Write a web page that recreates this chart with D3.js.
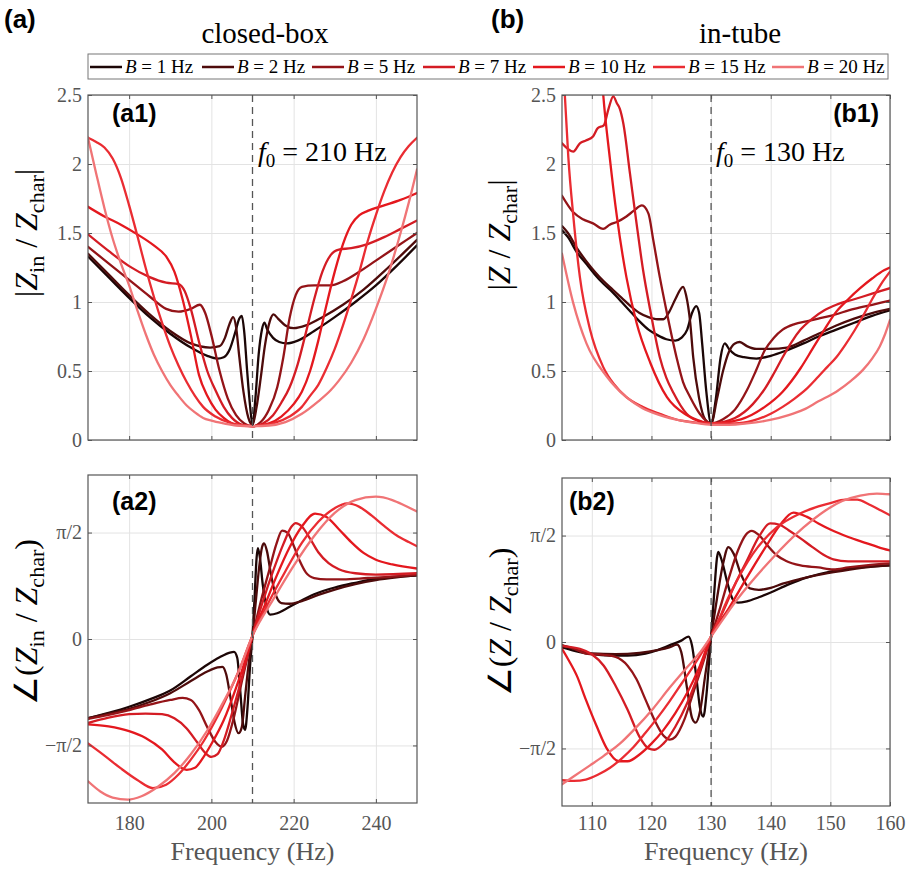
<!DOCTYPE html>
<html>
<head>
<meta charset="utf-8">
<script src="https://cdn.jsdelivr.net/npm/d3@7"></script>
<style>
  body { margin: 0; background: #fff; }
  svg { display: block; }
  text { font-family: "Liberation Serif", "Times New Roman", serif; }
</style>
</head>
<body>
<script>
var width = 907, height = 871;

var bandwidths = [1, 2, 5, 7, 10, 15, 20];
var colors = ['#1c0606', '#4e0b0b', '#941418', '#d41c24', '#e4181e', '#ea2c32', '#f07476'];

// |Zin/Zchar| closed-box, one list of [frequency, value] per bandwidth
var boxMag = [
  [[170,1.33],[175,1.18],[180,1.03],[185,0.89],[190,0.77],[195,0.67],[199,0.61],[201.5,0.59],[203,0.6],[204.5,0.66],[205.8,0.78],[206.8,0.88],[207.4,0.9],[208,0.78],[208.7,0.5],[209.4,0.25],[210,0.11],[210.7,0.3],[211.5,0.62],[212.3,0.8],[212.9,0.85],[213.6,0.8],[215,0.74],[216.5,0.71],[218.3,0.7],[221,0.72],[225,0.79],[230,0.89],[235,1.0],[240,1.12],[245,1.26],[250,1.41]],
  [[170,1.35],[175,1.2],[180,1.05],[185,0.91],[190,0.79],[195,0.7],[199.7,0.67],[202,0.68],[203.3,0.74],[204.4,0.84],[205.3,0.89],[206,0.82],[206.8,0.6],[207.8,0.35],[209,0.16],[210,0.11],[211,0.24],[212,0.45],[213,0.68],[214.2,0.86],[215.1,0.91],[216.2,0.88],[218,0.83],[220,0.81],[223,0.83],[227,0.89],[232,0.98],[237,1.09],[243,1.25],[250,1.45]],
  [[170,1.4],[175,1.28],[180,1.16],[185,1.04],[189,0.95],[192,0.93],[195,0.95],[197.2,0.98],[198.5,0.92],[200,0.76],[202,0.5],[204,0.3],[206,0.18],[208,0.12],[210,0.1],[212,0.13],[214,0.22],[216,0.38],[217.5,0.6],[219,0.88],[220.5,1.05],[222,1.11],[225,1.12],[229,1.12],[232,1.15],[236,1.22],[240,1.3],[245,1.4],[250,1.5]],
  [[170,1.49],[175,1.37],[180,1.26],[185,1.18],[189,1.14],[192,1.13],[193.5,1.08],[195,0.95],[197,0.71],[199,0.5],[201,0.36],[203,0.24],[205,0.16],[207.5,0.11],[210,0.1],[212.5,0.12],[215,0.18],[217,0.27],[219,0.38],[221,0.55],[223,0.78],[225,1.02],[227,1.22],[229,1.34],[231,1.38],[234,1.39],[238,1.42],[242,1.47],[246,1.53],[250,1.59]],
  [[170,1.69],[174,1.62],[178,1.56],[182,1.49],[186,1.41],[189,1.33],[191,1.22],[193,1.02],[195,0.76],[197,0.47],[199,0.32],[201,0.22],[203,0.16],[206,0.11],[210,0.1],[214,0.12],[217,0.17],[220,0.26],[222,0.35],[224,0.5],[226,0.72],[228,0.98],[230,1.22],[232,1.42],[234,1.56],[236,1.63],[238,1.66],[242,1.7],[246,1.74],[250,1.79]],
  [[170,2.19],[172,2.16],[174,2.12],[176,2.04],[178,1.9],[180,1.7],[182,1.48],[184,1.25],[186,1.04],[188,0.85],[190,0.68],[192,0.54],[194,0.42],[196,0.32],[198,0.24],[201,0.17],[205,0.12],[210,0.1],[215,0.12],[219,0.17],[222,0.24],[224,0.32],[226,0.4],[228,0.52],[230,0.66],[232,0.83],[234,1.02],[236,1.22],[238,1.44],[240,1.63],[242,1.8],[244,1.94],[246,2.05],[248,2.13],[250,2.19]],
  [[170,2.19],[172,1.93],[174,1.68],[176,1.46],[178,1.28],[180,1.12],[182,0.94],[184,0.77],[186,0.62],[188,0.5],[190,0.4],[192,0.32],[194,0.25],[196,0.2],[198,0.16],[200,0.14],[203,0.12],[206,0.105],[210,0.1],[214,0.105],[218,0.13],[222,0.19],[226,0.28],[229,0.36],[231,0.43],[234,0.56],[237,0.73],[240,0.95],[243,1.2],[246,1.5],[248,1.72],[250,1.96]]
];

// |Z/Zchar| in-tube
var tubeMag = [
  [[105,1.52],[106,1.47],[107.5,1.36],[109,1.28],[110.5,1.2],[112,1.13],[113.5,1.07],[115,1.0],[116.5,0.93],[118,0.86],[119.5,0.8],[121,0.76],[122.5,0.73],[124,0.72],[125,0.74],[126,0.8],[126.8,0.92],[127.5,0.97],[128,0.92],[128.5,0.7],[129.2,0.35],[130,0.12],[130.8,0.3],[131.6,0.6],[132.3,0.7],[133,0.66],[134,0.62],[135.5,0.6],[137.6,0.59],[140,0.61],[142.7,0.65],[145.5,0.7],[148,0.75],[151,0.8],[154,0.85],[157,0.9],[160,0.94]],
  [[105,1.55],[106,1.5],[107.5,1.39],[109,1.3],[110.5,1.22],[112,1.15],[113.5,1.09],[115,1.03],[116.5,0.97],[118,0.92],[119.5,0.89],[121,0.875],[122,0.875],[123,0.93],[124,1.02],[125.3,1.11],[125.8,1.05],[126.5,0.85],[127,0.6],[128,0.3],[129,0.15],[130,0.12],[131,0.3],[132,0.5],[133,0.64],[134,0.7],[134.8,0.71],[136,0.68],[137.6,0.66],[140,0.66],[142.7,0.67],[145.5,0.72],[148,0.77],[151,0.83],[154,0.88],[157,0.92],[160,0.95]],
  [[105,1.77],[106.9,1.65],[108.5,1.6],[110.2,1.57],[111.9,1.53],[113,1.56],[114.2,1.58],[115.8,1.62],[117,1.66],[118.4,1.7],[119.5,1.64],[120.3,1.45],[121.4,1.18],[122.5,0.94],[124.2,0.6],[125.3,0.42],[126.5,0.31],[128.1,0.19],[130,0.12],[132,0.15],[134,0.22],[136,0.36],[137.5,0.5],[139,0.65],[140.5,0.74],[142,0.8],[144,0.84],[146,0.86],[148,0.88],[150,0.9],[154,0.95],[157,0.98],[160,1.01]],
  [[105,2.15],[106.9,2.09],[108,2.15],[109,2.17],[110.2,2.2],[111,2.26],[112,2.28],[112.8,2.4],[113.6,2.49],[114.2,2.44],[114.7,2.4],[115.3,2.29],[116.4,1.93],[117.5,1.57],[118.6,1.23],[119.8,0.94],[121.4,0.6],[122.5,0.45],[123.7,0.34],[125.9,0.19],[128,0.14],[130,0.12],[134,0.16],[137,0.26],[139,0.37],[140.5,0.48],[142,0.6],[143.5,0.71],[145,0.8],[147,0.88],[149,0.94],[151,0.98],[154,1.02],[157,1.06],[160,1.1]],
  [[111.5,2.75],[111.9,2.51],[113,2.05],[114.2,1.62],[115.8,1.18],[117.5,0.85],[119.8,0.56],[122.6,0.31],[125.9,0.18],[130,0.12],[135,0.15],[139,0.24],[142,0.35],[145,0.52],[147,0.66],[149,0.8],[151,0.93],[153,1.02],[155,1.1],[157,1.17],[159,1.23],[160,1.25]],
  [[105.2,2.75],[105.5,2.48],[106.06,2.05],[106.9,1.62],[108,1.18],[109.7,0.8],[111.9,0.53],[113.8,0.4],[115.8,0.31],[118.5,0.24],[121.4,0.19],[125,0.14],[130,0.12],[134,0.12],[137,0.14],[140,0.19],[142,0.24],[144,0.3],[146,0.37],[148,0.46],[149.5,0.53],[151,0.6],[152.5,0.69],[154,0.79],[155.5,0.9],[157,1.02],[158.5,1.13],[160,1.22]],
  [[105,1.35],[106.9,0.99],[109.1,0.7],[112.5,0.46],[115.8,0.31],[118.5,0.23],[121.4,0.18],[125,0.14],[128,0.12],[130.5,0.11],[133,0.11],[136,0.12],[139.9,0.145],[143,0.18],[145.5,0.22],[148,0.28],[151,0.35],[153.5,0.43],[155.5,0.51],[157,0.59],[158.3,0.68],[159.2,0.77],[160,0.87]]
];

// phase (rad) closed-box
var boxPhase = [
  [[170,-1.17],[175,-1.09],[180,-1.0],[185,-0.89],[190,-0.76],[195,-0.55],[199,-0.38],[202,-0.27],[204.5,-0.2],[205.5,-0.19],[206.3,-0.28],[207,-0.75],[207.7,-1.25],[208.2,-1.34],[208.8,-1.0],[209.4,-0.4],[210,0.05],[210.5,0.6],[211,1.2],[211.3,1.34],[211.8,1.2],[212.5,0.8],[213.5,0.45],[214.3,0.36],[216,0.38],[218,0.44],[221,0.54],[225,0.66],[230,0.76],[235,0.83],[240,0.89],[245,0.92],[250,0.94]],
  [[170,-1.17],[175,-1.1],[180,-1.03],[185,-0.93],[190,-0.8],[195,-0.62],[199,-0.48],[201.5,-0.42],[202.7,-0.41],[203.6,-0.52],[204.6,-0.85],[205.6,-1.22],[206.6,-1.39],[207.4,-1.3],[208.2,-0.85],[209,-0.4],[210,0.05],[210.8,0.55],[211.6,1.05],[212.3,1.35],[212.8,1.41],[213.5,1.3],[214.5,0.95],[215.5,0.68],[217,0.53],[219,0.52],[222,0.56],[226,0.65],[230,0.73],[235,0.81],[240,0.87],[245,0.91],[250,0.94]],
  [[170,-1.18],[175,-1.12],[180,-1.05],[185,-0.97],[190,-0.9],[193,-0.87],[195,-0.9],[197,-1.05],[199,-1.3],[201,-1.52],[202.5,-1.59],[203.8,-1.5],[205.5,-1.15],[207.5,-0.6],[210,0.05],[212,0.55],[214,1.0],[215.8,1.4],[217.2,1.6],[218.5,1.57],[220,1.38],[221.5,1.15],[223,0.98],[225,0.9],[228,0.88],[232,0.88],[238,0.9],[244,0.92],[250,0.95]],
  [[170,-1.24],[175,-1.16],[180,-1.11],[184,-1.1],[188,-1.11],[191,-1.17],[194,-1.32],[196.5,-1.52],[198.5,-1.68],[200,-1.74],[201.5,-1.7],[203,-1.5],[205,-1.1],[207.5,-0.55],[210,0.05],[212.5,0.55],[215,1.0],[217.5,1.4],[219.5,1.66],[220.5,1.71],[222,1.66],[224,1.48],[226,1.28],[228.5,1.12],[231,1.03],[235,0.97],[240,0.95],[250,0.97]],
  [[170,-1.26],[175,-1.29],[180,-1.36],[184,-1.46],[188,-1.63],[191,-1.82],[194,-1.93],[196,-1.9],[198,-1.75],[200,-1.55],[203,-1.2],[206,-0.72],[208,-0.36],[210,0.05],[213,0.5],[216,0.95],[219,1.35],[222,1.66],[225.2,1.85],[228,1.8],[231,1.62],[234,1.43],[237,1.27],[240,1.17],[244,1.1],[250,1.04]],
  [[170,-1.54],[174,-1.72],[178,-1.91],[182,-2.08],[185.8,-2.2],[189,-2.15],[192,-2.0],[195,-1.78],[198,-1.52],[201,-1.2],[204,-0.83],[207,-0.42],[210,0.05],[214,0.55],[218,1.0],[222,1.42],[226,1.73],[230,1.93],[233,2.0],[236,1.95],[239,1.82],[242,1.67],[245,1.53],[248,1.43],[250,1.37]],
  [[170,-2.1],[173,-2.25],[176,-2.34],[179.7,-2.37],[183,-2.32],[187,-2.18],[191,-1.98],[195,-1.7],[199,-1.35],[203,-0.92],[206.5,-0.5],[210,0.05],[215,0.58],[220,1.08],[225,1.52],[230,1.86],[235,2.05],[240,2.1],[244,2.05],[247,1.97],[250,1.88]]
];

// phase (rad) in-tube
var tubePhase = [
  [[105,-0.08],[108,-0.15],[110,-0.18],[113,-0.2],[116,-0.2],[119,-0.17],[121,-0.12],[123,-0.05],[125,0.02],[126.2,0.08],[126.8,-0.05],[127.5,-0.5],[128.2,-1.0],[128.7,-1.1],[129.2,-0.8],[129.7,-0.25],[130,0.08],[130.5,0.7],[131,1.25],[131.2,1.33],[131.8,1.2],[132.8,0.85],[133.7,0.62],[134.5,0.58],[136,0.6],[138,0.66],[140,0.73],[143,0.85],[146,0.95],[150,1.04],[155,1.1],[160,1.13]],
  [[105,-0.05],[108,-0.13],[110,-0.17],[114,-0.18],[118,-0.16],[121,-0.12],[123,-0.08],[124.3,-0.04],[125,-0.15],[126,-0.7],[126.8,-1.12],[127.4,-1.19],[128.2,-1.0],[129,-0.5],[130,0.08],[131,0.65],[132,1.15],[132.9,1.4],[133.8,1.3],[135,1.0],[136.5,0.79],[138,0.77],[140,0.8],[142,0.86],[145,0.93],[148,0.99],[152,1.05],[156,1.1],[160,1.13]],
  [[105,-0.05],[107,-0.1],[109,-0.17],[112,-0.19],[114,-0.22],[116,-0.35],[117.5,-0.55],[119,-0.85],[120.5,-1.15],[122,-1.38],[123.1,-1.44],[124,-1.4],[125.5,-1.15],[127,-0.75],[128.5,-0.35],[130,0.08],[131.5,0.5],[133,0.95],[134.5,1.35],[135.8,1.58],[136.8,1.64],[138,1.58],[139.5,1.42],[141,1.28],[142.5,1.2],[145,1.13],[148,1.1],[150.5,1.07],[153,1.1],[156,1.13],[160,1.16]],
  [[105,-0.06],[108,-0.1],[110,-0.18],[112,-0.35],[114,-0.65],[116,-1.0],[118,-1.4],[119.5,-1.57],[120.5,-1.59],[122,-1.5],[124,-1.25],[126,-0.9],[128,-0.45],[130,0.08],[132,0.45],[134,0.85],[136,1.2],[138,1.55],[139.9,1.75],[141.5,1.73],[143,1.65],[145,1.53],[147,1.4],[149,1.28],[150.5,1.22],[153,1.19],[156,1.19],[160,1.19]],
  [[105,-0.1],[106,-0.25],[107.5,-0.5],[109,-0.85],[110.8,-1.24],[112.5,-1.57],[114.5,-1.76],[116,-1.76],[118,-1.66],[120,-1.5],[122,-1.3],[124,-1.05],[126,-0.75],[128,-0.38],[130,0.08],[133,0.5],[136,0.95],[139,1.38],[141.5,1.72],[143.8,1.91],[146,1.85],[148,1.75],[150,1.66],[153,1.55],[156,1.46],[158,1.4],[160,1.35]],
  [[105,-2.04],[107,-2.05],[109,-2.03],[111,-1.96],[113,-1.86],[115,-1.72],[117,-1.55],[119,-1.34],[121,-1.12],[123,-0.88],[125,-0.62],[127,-0.36],[128.5,-0.15],[130,0.08],[133.2,0.71],[137,1.3],[141,1.69],[145,1.9],[148,2.0],[150,2.05],[152.5,2.1],[154.5,2.1],[156.5,2.03],[158.5,1.94],[160,1.87]],
  [[105,-2.1],[107,-1.98],[109.7,-1.82],[112,-1.68],[114.7,-1.5],[117,-1.3],[120.3,-0.98],[123,-0.68],[125.9,-0.38],[128,-0.17],[130,0.08],[134.3,0.62],[139.9,1.2],[145.5,1.69],[149,1.93],[152,2.08],[155,2.16],[157.8,2.19],[160,2.18]]
];

var magTicks = [0, 0.5, 1, 1.5, 2, 2.5];
var phaseTicks = [-Math.PI / 2, 0, Math.PI / 2];
var boxFreqTicks = [180, 200, 220, 240];
var tubeFreqTicks = [110, 120, 130, 140, 150, 160];

var axisColor = '#555';
var serif = '"Liberation Serif", "Times New Roman", serif';

var svg = d3.select('body').append('svg')
    .attr('width', width)
    .attr('height', height);

var phaseFormat = function(d) {
  if (Math.abs(d) < 1e-9) return '0';
  return d > 0 ? 'π/2' : '−π/2';
};

var panels = [
  {name: 'a1', series: boxMag, left: 88, right: 417, top: 95, bottom: 440,
   xDomain: [170, 250], yDomain: [0, 2.5], xTicks: boxFreqTicks, yTicks: magTicks,
   yFormat: function(d) { return String(d); }, f0: 210, showX: false,
   tag: '(a1)', tagX: 112, tagY: 122, tagAnchor: 'start'},
  {name: 'b1', series: tubeMag, left: 562, right: 890, top: 95, bottom: 440,
   xDomain: [105, 160], yDomain: [0, 2.5], xTicks: tubeFreqTicks, yTicks: magTicks,
   yFormat: function(d) { return String(d); }, f0: 130, showX: false,
   tag: '(b1)', tagX: 879, tagY: 122, tagAnchor: 'end'},
  {name: 'a2', series: boxPhase, left: 88, right: 417, top: 475, bottom: 803,
   xDomain: [170, 250], yDomain: [-2.42, 2.42], xTicks: boxFreqTicks, yTicks: phaseTicks,
   yFormat: phaseFormat, f0: 210, showX: true,
   tag: '(a2)', tagX: 112, tagY: 510, tagAnchor: 'start'},
  {name: 'b2', series: tubePhase, left: 562, right: 890, top: 478, bottom: 806,
   xDomain: [105, 160], yDomain: [-2.42, 2.42], xTicks: tubeFreqTicks, yTicks: phaseTicks,
   yFormat: phaseFormat, f0: 130, showX: true,
   tag: '(b2)', tagX: 569, tagY: 510, tagAnchor: 'start'}
];

function styleTicks(sel) {
  sel.selectAll('.tick line').attr('stroke', axisColor);
  sel.selectAll('.tick text')
      .attr('fill', axisColor)
      .style('font-family', serif)
      .style('font-size', '20px');
}

panels.forEach(function(p) {
  var x = d3.scaleLinear().domain(p.xDomain).range([p.left, p.right]);
  var y = d3.scaleLinear().domain(p.yDomain).range([p.bottom, p.top]);
  var w = p.right - p.left, h = p.bottom - p.top;
  var g = svg.append('g').attr('class', 'panel-' + p.name);

  // grid
  var gx = g.append('g')
      .attr('transform', 'translate(0,' + p.bottom + ')')
      .call(d3.axisBottom(x).tickValues(p.xTicks).tickSize(-h).tickFormat(''));
  gx.select('.domain').remove();
  gx.selectAll('line').attr('stroke', '#e3e3e3');
  var gy = g.append('g')
      .attr('transform', 'translate(' + p.left + ',0)')
      .call(d3.axisLeft(y).tickValues(p.yTicks).tickSize(-w).tickFormat(''));
  gy.select('.domain').remove();
  gy.selectAll('line').attr('stroke', '#e3e3e3');

  // curves
  var clipId = 'clip-' + p.name;
  svg.append('clipPath').attr('id', clipId)
    .append('rect')
      .attr('x', p.left).attr('y', p.top)
      .attr('width', w).attr('height', h);

  var line = d3.line()
      .x(function(d) { return x(d[0]); })
      .y(function(d) { return y(d[1]); })
      .curve(d3.curveMonotoneX);

  g.append('g')
      .attr('clip-path', 'url(#' + clipId + ')')
    .selectAll('path')
      .data(p.series)
    .enter().append('path')
      .attr('d', line)
      .attr('fill', 'none')
      .attr('stroke', function(d, i) { return colors[i]; })
      .attr('stroke-width', 2.3)
      .attr('stroke-linejoin', 'round')
      .attr('stroke-linecap', 'round');

  // resonance line
  g.append('line')
      .attr('x1', x(p.f0)).attr('x2', x(p.f0))
      .attr('y1', p.top).attr('y2', p.bottom)
      .attr('stroke', axisColor)
      .attr('stroke-width', 1.3)
      .attr('stroke-dasharray', '7,5');

  // box
  g.append('rect')
      .attr('x', p.left).attr('y', p.top)
      .attr('width', w).attr('height', h)
      .attr('fill', 'none')
      .attr('stroke', axisColor)
      .attr('stroke-width', 1.2);

  // ticks (inward)
  var left = g.append('g')
      .attr('transform', 'translate(' + p.left + ',0)')
      .call(d3.axisLeft(y).tickValues(p.yTicks).tickSizeInner(-4).tickSizeOuter(0)
            .tickPadding(6).tickFormat(p.yFormat));
  left.select('.domain').remove();
  styleTicks(left);

  var right = g.append('g')
      .attr('transform', 'translate(' + p.right + ',0)')
      .call(d3.axisRight(y).tickValues(p.yTicks).tickSizeInner(-4).tickSizeOuter(0).tickFormat(''));
  right.select('.domain').remove();
  styleTicks(right);

  var top = g.append('g')
      .attr('transform', 'translate(0,' + p.top + ')')
      .call(d3.axisTop(x).tickValues(p.xTicks).tickSizeInner(-4).tickSizeOuter(0).tickFormat(''));
  top.select('.domain').remove();
  styleTicks(top);

  var bottom = g.append('g')
      .attr('transform', 'translate(0,' + p.bottom + ')')
      .call(d3.axisBottom(x).tickValues(p.xTicks).tickSizeInner(-4).tickSizeOuter(0)
            .tickPadding(p.name === 'a2' ? 13 : 10)
            .tickFormat(p.showX ? d3.format('d') : ''));
  bottom.select('.domain').remove();
  styleTicks(bottom);

  // panel tag
  g.append('text')
      .attr('x', p.tagX).attr('y', p.tagY)
      .attr('text-anchor', p.tagAnchor)
      .style('font-family', '"Liberation Sans", Arial, sans-serif')
      .style('font-weight', 'bold')
      .style('font-size', '25px')
      .text(p.tag);

  if (p.showX) {
    g.append('text')
        .attr('x', (p.left + p.right) / 2)
        .attr('y', 860)
        .attr('text-anchor', 'middle')
        .attr('fill', axisColor)
        .style('font-family', serif)
        .style('font-size', '26px')
        .text('Frequency (Hz)');
  }
});

// f0 annotations
function f0Label(px, py, value) {
  var t = svg.append('text')
      .attr('x', px).attr('y', py)
      .style('font-size', '28px');
  t.append('tspan').style('font-style', 'italic').text('f');
  t.append('tspan').attr('dy', 6).style('font-size', '19px').text('0');
  t.append('tspan').attr('dy', -6).text(' = ' + value + ' Hz');
}
f0Label(258, 161, 210);
f0Label(716, 161, 130);

// y axis titles
function yTitle(px, py, prefix, sub, suffix) {
  var t = svg.append('text')
      .attr('transform', 'translate(' + px + ',' + py + ') rotate(-90)')
      .attr('text-anchor', 'middle')
      .style('font-size', '32px');
  t.append('tspan').text(prefix);
  t.append('tspan').style('font-style', 'italic').text('Z');
  if (sub) {
    t.append('tspan').attr('dy', 7).style('font-size', '22px').text(sub);
    t.append('tspan').attr('dy', -7).text(' / ');
  } else {
    t.append('tspan').text(' / ');
  }
  t.append('tspan').style('font-style', 'italic').text('Z');
  t.append('tspan').attr('dy', 7).style('font-size', '22px').text('char');
  t.append('tspan').attr('dy', -7).text(suffix);
}
yTitle(37, 233, '|', 'in', '|');
yTitle(510, 235, '|', null, '|');
yTitle(37, 622, '∠(', 'in', ')');
yTitle(511, 622, '∠(', null, ')');

// column headings
svg.append('text').attr('x', 4).attr('y', 28)
    .style('font-family', '"Liberation Sans", Arial, sans-serif')
    .style('font-weight', 'bold').style('font-size', '26px').text('(a)');
svg.append('text').attr('x', 491).attr('y', 28)
    .style('font-family', '"Liberation Sans", Arial, sans-serif')
    .style('font-weight', 'bold').style('font-size', '26px').text('(b)');
svg.append('text').attr('x', 265).attr('y', 43).attr('text-anchor', 'middle')
    .style('font-size', '29px').text('closed-box');
svg.append('text').attr('x', 740).attr('y', 43).attr('text-anchor', 'middle')
    .style('font-size', '29px').text('in-tube');

// legend
var legendStarts = [90, 202, 312, 423, 533, 653, 772];
svg.append('rect')
    .attr('x', 88).attr('y', 54).attr('width', 800).attr('height', 25)
    .attr('fill', '#fff').attr('stroke', '#777').attr('stroke-width', 1);

var item = svg.selectAll('.legend-item')
    .data(bandwidths)
  .enter().append('g')
    .attr('class', 'legend-item')
    .attr('transform', function(d, i) { return 'translate(' + legendStarts[i] + ',0)'; });

item.append('line')
    .attr('x1', 0).attr('x2', 32)
    .attr('y1', 67).attr('y2', 67)
    .attr('stroke', function(d, i) { return colors[i]; })
    .attr('stroke-width', 2.5);

var lt = item.append('text')
    .attr('x', 35).attr('y', 73)
    .style('font-size', '19px');
lt.append('tspan').style('font-style', 'italic').text('B');
lt.append('tspan').text(function(d) { return ' = ' + d + ' Hz'; });
</script>
</body>
</html>
